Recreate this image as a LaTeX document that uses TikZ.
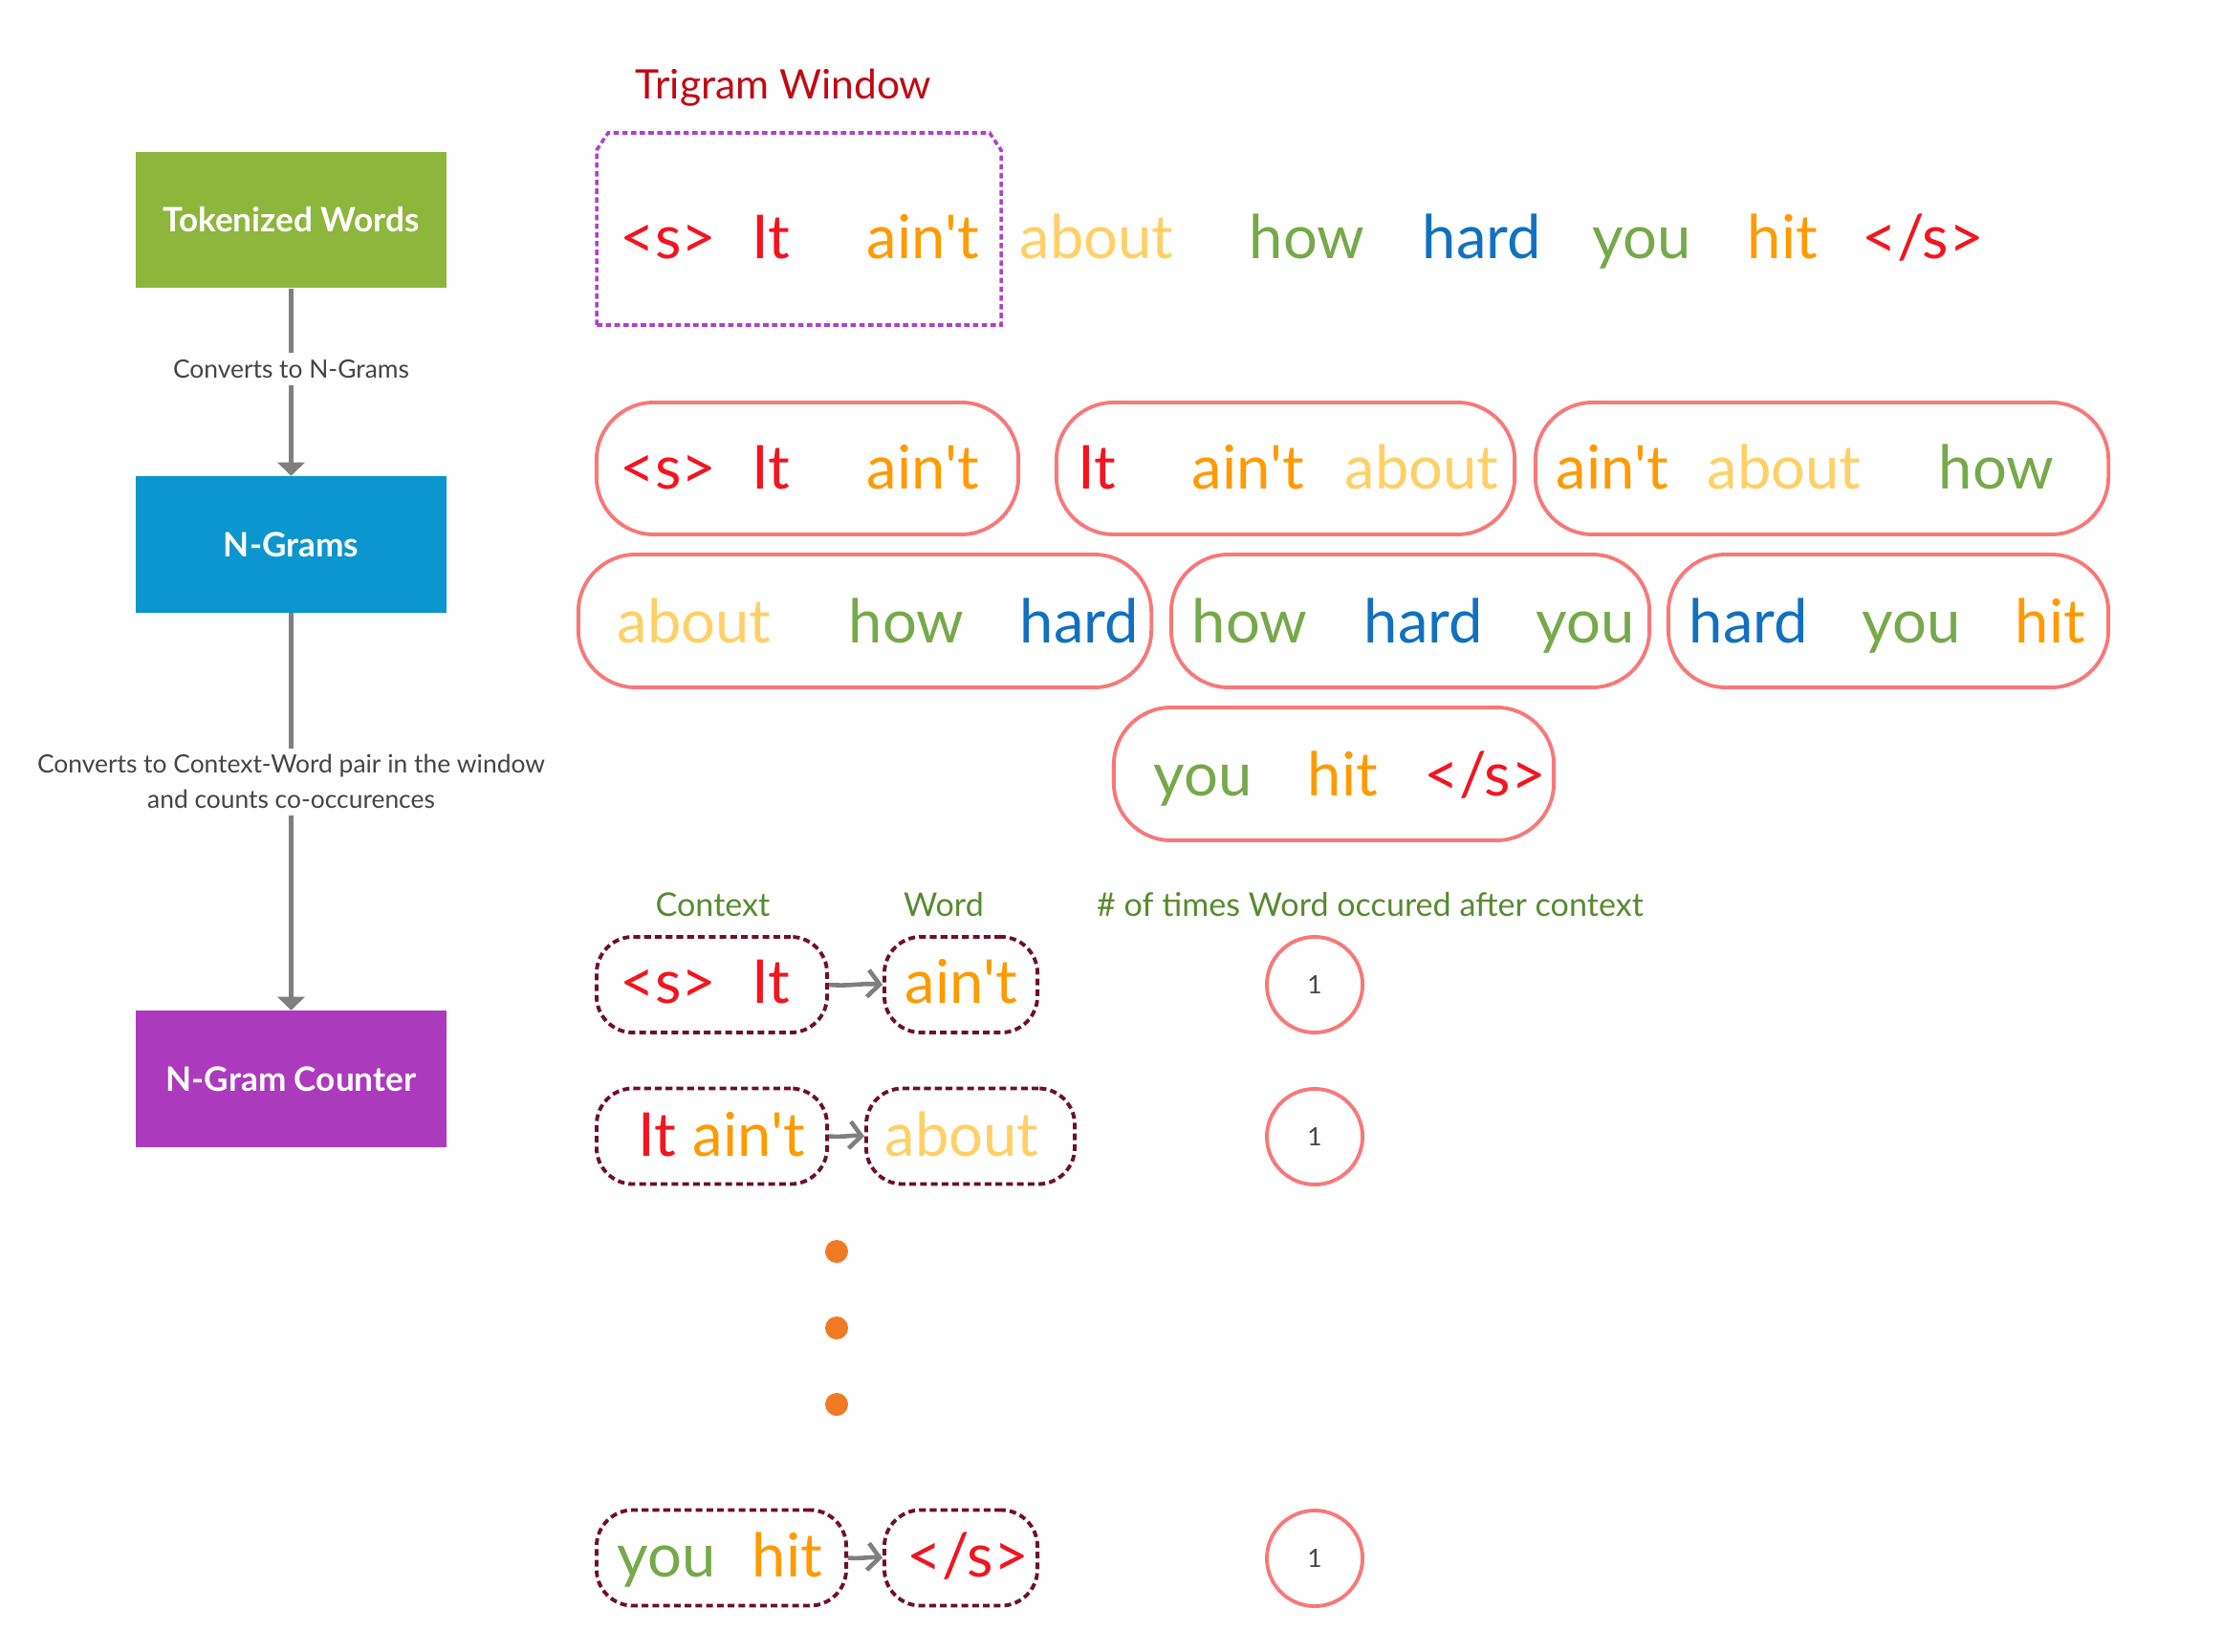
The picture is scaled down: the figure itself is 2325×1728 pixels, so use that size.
\documentclass[tikz,border=0pt]{standalone}
\usepackage{fontspec}
\setmainfont{Lato}
\usetikzlibrary{arrows.meta}

\definecolor{wred}{HTML}{F2141F}
\definecolor{worange}{HTML}{FF9A00}
\definecolor{wyellow}{HTML}{FFD066}
\definecolor{wgreen}{HTML}{76A94A}
\definecolor{wblue}{HTML}{1170C0}
\definecolor{trired}{HTML}{C00A14}
\definecolor{hdrgreen}{HTML}{558B2F}
\definecolor{pillred}{HTML}{F87878}
\definecolor{pairmaroon}{HTML}{6E0F2E}
\definecolor{dotorange}{HTML}{F07A24}
\definecolor{winpurple}{HTML}{B040CC}
\definecolor{boxgreen}{HTML}{8DB63C}
\definecolor{boxblue}{HTML}{0B96CF}
\definecolor{boxpurple}{HTML}{AC3ABD}
\definecolor{arrowgray}{HTML}{7F7F7F}
\definecolor{labelgray}{HTML}{444444}

\newcommand\aint{ain\textquotesingle t}

\tikzset{
  stage/.style={minimum width=3.25cm, minimum height=1.42cm, inner sep=0pt,
    text=white, font=\fontsize{10}{12}\selectfont\bfseries},
  flow/.style={draw=arrowgray, line width=1.2pt, -{Triangle[width=8pt,length=4pt]}},
  flowlabel/.style={fill=white, text=labelgray, font=\fontsize{7.5}{10.5}\selectfont,
    align=center, inner sep=2pt},
  tok/.style={anchor=base west, inner sep=0pt, font=\fontsize{18}{20}\selectfont},
  pill/.style={draw=pillred, line width=1.1pt, rounded corners=0.6cm, inner sep=0pt},
  pairbox/.style={draw=pairmaroon, line width=1.1pt, dash pattern=on 2pt off 1.2pt,
    rounded corners=0.38cm, inner sep=0pt, minimum height=1cm},
  countcirc/.style={circle, draw=pillred, line width=1.1pt, minimum size=1cm,
    inner sep=0pt, text=labelgray, font=\fontsize{7.5}{8}\selectfont},
  link/.style={draw=arrowgray, line width=1.3pt, -{Straight Barb[length=3.5pt,width=8pt]}},
  header/.style={text=hdrgreen, font=\fontsize{9.7}{12}\selectfont, inner sep=0pt},
  window/.style={draw=winpurple, line width=1pt, dash pattern=on 1.6pt off 1pt}
}

\begin{document}
\begin{tikzpicture}[x=0.01cm, y=-0.01cm]
\useasboundingbox (0,0) rectangle (2325,1728);

% pipeline on the left
\node[stage, fill=boxgreen] (tokw) at (304.5,230) {Tokenized Words};
\node[stage, fill=boxblue] (ngr) at (304.5,569.5) {N-Grams};
\node[stage, fill=boxpurple] (ngc) at (304.5,1128.5) {N-Gram Counter};

\draw[flow] (tokw) -- node[flowlabel, pos=0.43] {Converts to N-Grams} (ngr);
\draw[flow] (ngr) -- node[flowlabel, pos=0.425]
      {Converts to Context-Word pair in the window\\and counts co-occurences} (ngc);

% sentence and trigram window
\node[text=trired, font=\fontsize{12.1}{14}\selectfont] (wintitle) at (819.5,92) {Trigram Window};
\draw[window] (624,340) -- (624,157) -- (636,139) -- (1035,139) -- (1047,157) -- (1047,340) -- cycle;

\node[tok, text=wred] at (648,271) {<s>};
\node[tok, text=wred] at (786,271) {It};
\node[tok, text=worange] at (906,271) {\aint};
\node[tok, text=wyellow] at (1066,271) {about};
\node[tok, text=wgreen] at (1306,271) {how};
\node[tok, text=wblue] at (1487,271) {hard};
\node[tok, text=wgreen] at (1665,271) {you};
\node[tok, text=worange] at (1827,271) {hit};
\node[tok, text=wred] at (1947,271) {</s>};

% trigrams
\node[pill, minimum width=4.41cm, minimum height=1.38cm] (g1) at (844.5,490) {};
\node[pill, minimum width=4.79cm, minimum height=1.38cm] (g2) at (1344.5,490) {};
\node[pill, minimum width=5.99cm, minimum height=1.38cm] (g3) at (1905.5,490) {};
\node[pill, minimum width=5.99cm, minimum height=1.39cm] (g4) at (904.5,649.5) {};
\node[pill, minimum width=5.00cm, minimum height=1.39cm] (g5) at (1475,649.5) {};
\node[pill, minimum width=4.60cm, minimum height=1.39cm] (g6) at (1975,649.5) {};
\node[pill, minimum width=4.60cm, minimum height=1.39cm] (g7) at (1395,809.5) {};

\node[tok, text=wred] at (648,512) {<s>};
\node[tok, text=wred] at (786,512) {It};
\node[tok, text=worange] at (906,512) {\aint};
\node[tok, text=wred] at (1127,512) {It};
\node[tok, text=worange] at (1246,512) {\aint};
\node[tok, text=wyellow] at (1406,512) {about};
\node[tok, text=worange] at (1627,512) {\aint};
\node[tok, text=wyellow] at (1785,512) {about};
\node[tok, text=wgreen] at (2027,512) {how};

\node[tok, text=wyellow] at (645,672) {about};
\node[tok, text=wgreen] at (887,672) {how};
\node[tok, text=wblue] at (1066,672) {hard};
\node[tok, text=wgreen] at (1246,672) {how};
\node[tok, text=wblue] at (1426,672) {hard};
\node[tok, text=wgreen] at (1606,672) {you};
\node[tok, text=wblue] at (1766,672) {hard};
\node[tok, text=wgreen] at (1947,672) {you};
\node[tok, text=worange] at (2107,672) {hit};

\node[tok, text=wgreen] at (1206,832) {you};
\node[tok, text=worange] at (1367,832) {hit};
\node[tok, text=wred] at (1489,832) {</s>};

% counter
\node[header] (hctx) at (745.5,946) {Context};
\node[header] (hword) at (987,946) {Word};
\node[header] (hcount) at (1433,946) {\# of times Word occured after context};

\node[pairbox, minimum width=2.41cm] (ca) at (744.5,1030) {};
\node[pairbox, minimum width=1.60cm] (wa) at (1005,1030) {};
\node[pairbox, minimum width=2.41cm] (cb) at (744.5,1188.5) {};
\node[pairbox, minimum width=2.18cm] (wb) at (1015,1188.5) {};
\node[pairbox, minimum width=2.61cm] (cc) at (754.5,1629.5) {};
\node[pairbox, minimum width=1.60cm] (wc) at (1005,1629.5) {};

\node[tok, text=wred] at (648,1049) {<s>};
\node[tok, text=wred] at (786,1049) {It};
\node[tok, text=worange] at (946,1049) {\aint};
\node[tok, text=wred] at (667,1209) {It};
\node[tok, text=worange] at (724,1209) {\aint};
\node[tok, text=wyellow] at (925,1209) {about};
\node[tok, text=wgreen] at (645,1649) {you};
\node[tok, text=worange] at (786,1649) {hit};
\node[tok, text=wred] at (948,1649) {</s>};

\draw[link] (ca.east) to[out=-5,in=175] (wa.west);
\draw[link] (cb.east) to[out=-5,in=175] (wb.west);
\draw[link] (cc.east) to[out=-5,in=175] (wc.west);

\node[countcirc] (na) at (1375,1030) {1};
\node[countcirc] (nb) at (1375,1189) {1};
\node[countcirc] (nc) at (1375,1630) {1};

\foreach \y in {1309,1389,1469}
  \fill[dotorange] (875,\y) circle (0.12cm);
\end{tikzpicture}
\end{document}
